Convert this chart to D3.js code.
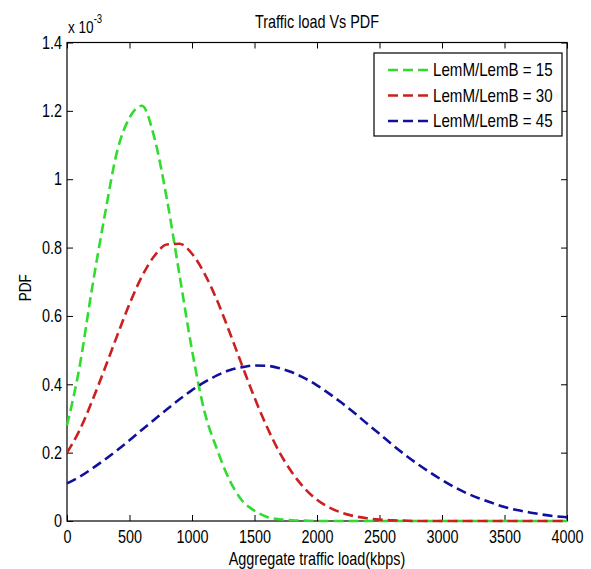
<!DOCTYPE html>
<html lang="en">

<head>
  <meta charset="UTF-8" />
  <script src="https://d3js.org/d3.v7.min.js"></script>
  <title>Traffic load Vs PDF</title>
  <style>
    body { margin: 0; background: #fff; }
    text { font-family: "Liberation Sans", Arial, sans-serif; fill: #000; }
  </style>
</head>

<body>
  <svg width="591" height="569"></svg>

  <script>
    // x positions (kbps) where the curves were read
    const xLoad = [0, 100, 200, 300, 400, 500, 600, 700, 800, 900,
      1000, 1100, 1200, 1300, 1400, 1500, 1600, 1700, 1800, 1900,
      2000, 2100, 2200, 2300, 2400, 2500, 2600, 2700, 2800, 2900,
      3000, 3100, 3200, 3300, 3400, 3500, 3600, 3700, 3800, 3900, 4000];

    // PDF values, in units of 1e-3
    const pdf15 = [0.28, 0.45, 0.68, 0.89, 1.08, 1.18, 1.215, 1.12, 0.94, 0.72,
      0.50, 0.32, 0.21, 0.12, 0.06, 0.03, 0.012, 0.005, 0.002, 0.001,
      0, 0, 0, 0, 0, 0, 0, 0, 0, 0,
      0, 0, 0, 0, 0, 0, 0, 0, 0, 0, 0];
    const pdf30 = [0.20, 0.265, 0.35, 0.444, 0.541, 0.635, 0.716, 0.776, 0.809, 0.811,
      0.782, 0.724, 0.646, 0.553, 0.456, 0.361, 0.275, 0.201, 0.142, 0.096,
      0.062, 0.039, 0.024, 0.014, 0.008, 0.004, 0.002, 0.001, 0, 0,
      0, 0, 0, 0, 0, 0, 0, 0, 0, 0, 0];
    const pdf45 = [0.11, 0.129, 0.153, 0.179, 0.207, 0.236, 0.267, 0.297, 0.327, 0.356,
      0.383, 0.406, 0.426, 0.441, 0.450, 0.455, 0.454, 0.447, 0.435, 0.418,
      0.397, 0.372, 0.345, 0.316, 0.285, 0.255, 0.224, 0.195, 0.168, 0.143,
      0.120, 0.099, 0.081, 0.066, 0.053, 0.041, 0.032, 0.025, 0.019, 0.014, 0.011];

    const seriesLabels = ["LemM/LemB = 15", "LemM/LemB = 30", "LemM/LemB = 45"];
    const seriesColors = ["#2fdc2f", "#cc1f1f", "#10109c"];

    const xTicks = [0, 500, 1000, 1500, 2000, 2500, 3000, 3500, 4000];
    const yTicks = [0, 0.2, 0.4, 0.6, 0.8, 1, 1.2, 1.4];

    const svg = d3.select("svg");
    const sx = 0.8; // the original's font is narrow, squeeze text horizontally

    // plot box
    const margin = { top: 42.5, right: 24, bottom: 48, left: 67 };
    const width = 591 - margin.left - margin.right;
    const height = 569 - margin.top - margin.bottom;

    const x = d3.scaleLinear().domain([0, 4000]).range([0, width]);
    const y = d3.scaleLinear().domain([0, 1.4]).range([height, 0]);

    const chart = svg.append("g")
      .attr("transform", `translate(${margin.left},${margin.top})`);

    // axes, ticks pointing inward like matlab
    const fmt = d => String(d);
    const xAxis = chart.append("g")
      .attr("class", "axis")
      .attr("transform", `translate(0,${height})`)
      .call(d3.axisBottom(x).tickValues(xTicks).tickFormat(fmt).tickSizeInner(-6).tickSizeOuter(0).tickPadding(9));
    chart.append("g")
      .attr("class", "axis")
      .call(d3.axisTop(x).tickValues(xTicks).tickFormat("").tickSizeInner(-6).tickSizeOuter(0));
    const yAxis = chart.append("g")
      .attr("class", "axis")
      .call(d3.axisLeft(y).tickValues(yTicks).tickFormat(fmt).tickSizeInner(-6).tickSizeOuter(0).tickPadding(5));
    chart.append("g")
      .attr("class", "axis")
      .attr("transform", `translate(${width},0)`)
      .call(d3.axisRight(y).tickValues(yTicks).tickFormat("").tickSizeInner(-6).tickSizeOuter(0));

    chart.selectAll(".axis .domain").remove();
    chart.selectAll(".axis text").attr("font-size", 18).attr("font-family", null);
    chart.selectAll(".axis line").attr("stroke", "#000");
    xAxis.selectAll("text").attr("transform", `scale(${sx},1)`);
    yAxis.selectAll("text").attr("x", -5 / sx).attr("transform", `scale(${sx},1)`);

    chart.append("rect")
      .attr("width", width)
      .attr("height", height)
      .attr("fill", "none")
      .attr("stroke", "#000")
      .attr("stroke-width", 1.2);

    // curves
    const allSeries = [pdf15, pdf30, pdf45];
    const line = d3.line()
      .x((d, i) => x(xLoad[i]))
      .y(d => y(d))
      .curve(d3.curveMonotoneX);

    chart.selectAll(".curve")
      .data(allSeries)
      .enter()
      .append("path")
      .attr("class", "curve")
      .attr("d", line)
      .attr("fill", "none")
      .attr("stroke", (d, i) => seriesColors[i])
      .attr("stroke-width", 2.6)
      .attr("stroke-dasharray", "10,5");

    // title and labels
    svg.append("text")
      .attr("transform", `translate(${margin.left + width / 2},28) scale(${sx},1)`)
      .attr("text-anchor", "middle")
      .attr("font-size", 18)
      .text("Traffic load Vs PDF");

    svg.append("text")
      .attr("transform", `translate(${margin.left + width / 2},565) scale(${sx},1)`)
      .attr("text-anchor", "middle")
      .attr("font-size", 18)
      .text("Aggregate traffic load(kbps)");

    svg.append("text")
      .attr("transform", `translate(31,${margin.top + height / 2 + 6}) rotate(-90) scale(${sx},1)`)
      .attr("text-anchor", "middle")
      .attr("font-size", 17)
      .text("PDF");

    // exponent label
    const expo = svg.append("text")
      .attr("transform", `translate(68,33) scale(${sx},1)`)
      .attr("font-size", 17)
      .text("x 10");
    expo.append("tspan")
      .attr("dy", -10)
      .attr("font-size", 12)
      .text("-3");

    // legend
    const legend = svg.append("g").attr("transform", "translate(374,53)");
    legend.append("rect")
      .attr("width", 188)
      .attr("height", 83)
      .attr("fill", "#fff")
      .attr("stroke", "#000")
      .attr("stroke-width", 1.2);

    const rows = legend.selectAll(".row")
      .data(seriesLabels)
      .enter()
      .append("g")
      .attr("class", "row")
      .attr("transform", (d, i) => `translate(0,${17 + i * 25.5})`);

    rows.append("line")
      .attr("x1", 14)
      .attr("x2", 57)
      .attr("stroke", (d, i) => seriesColors[i])
      .attr("stroke-width", 2.6)
      .attr("stroke-dasharray", "10,5");

    rows.append("text")
      .attr("transform", `translate(59,6) scale(0.84,1)`)
      .attr("font-size", 18)
      .text(d => d);
  </script>
</body>

</html>
